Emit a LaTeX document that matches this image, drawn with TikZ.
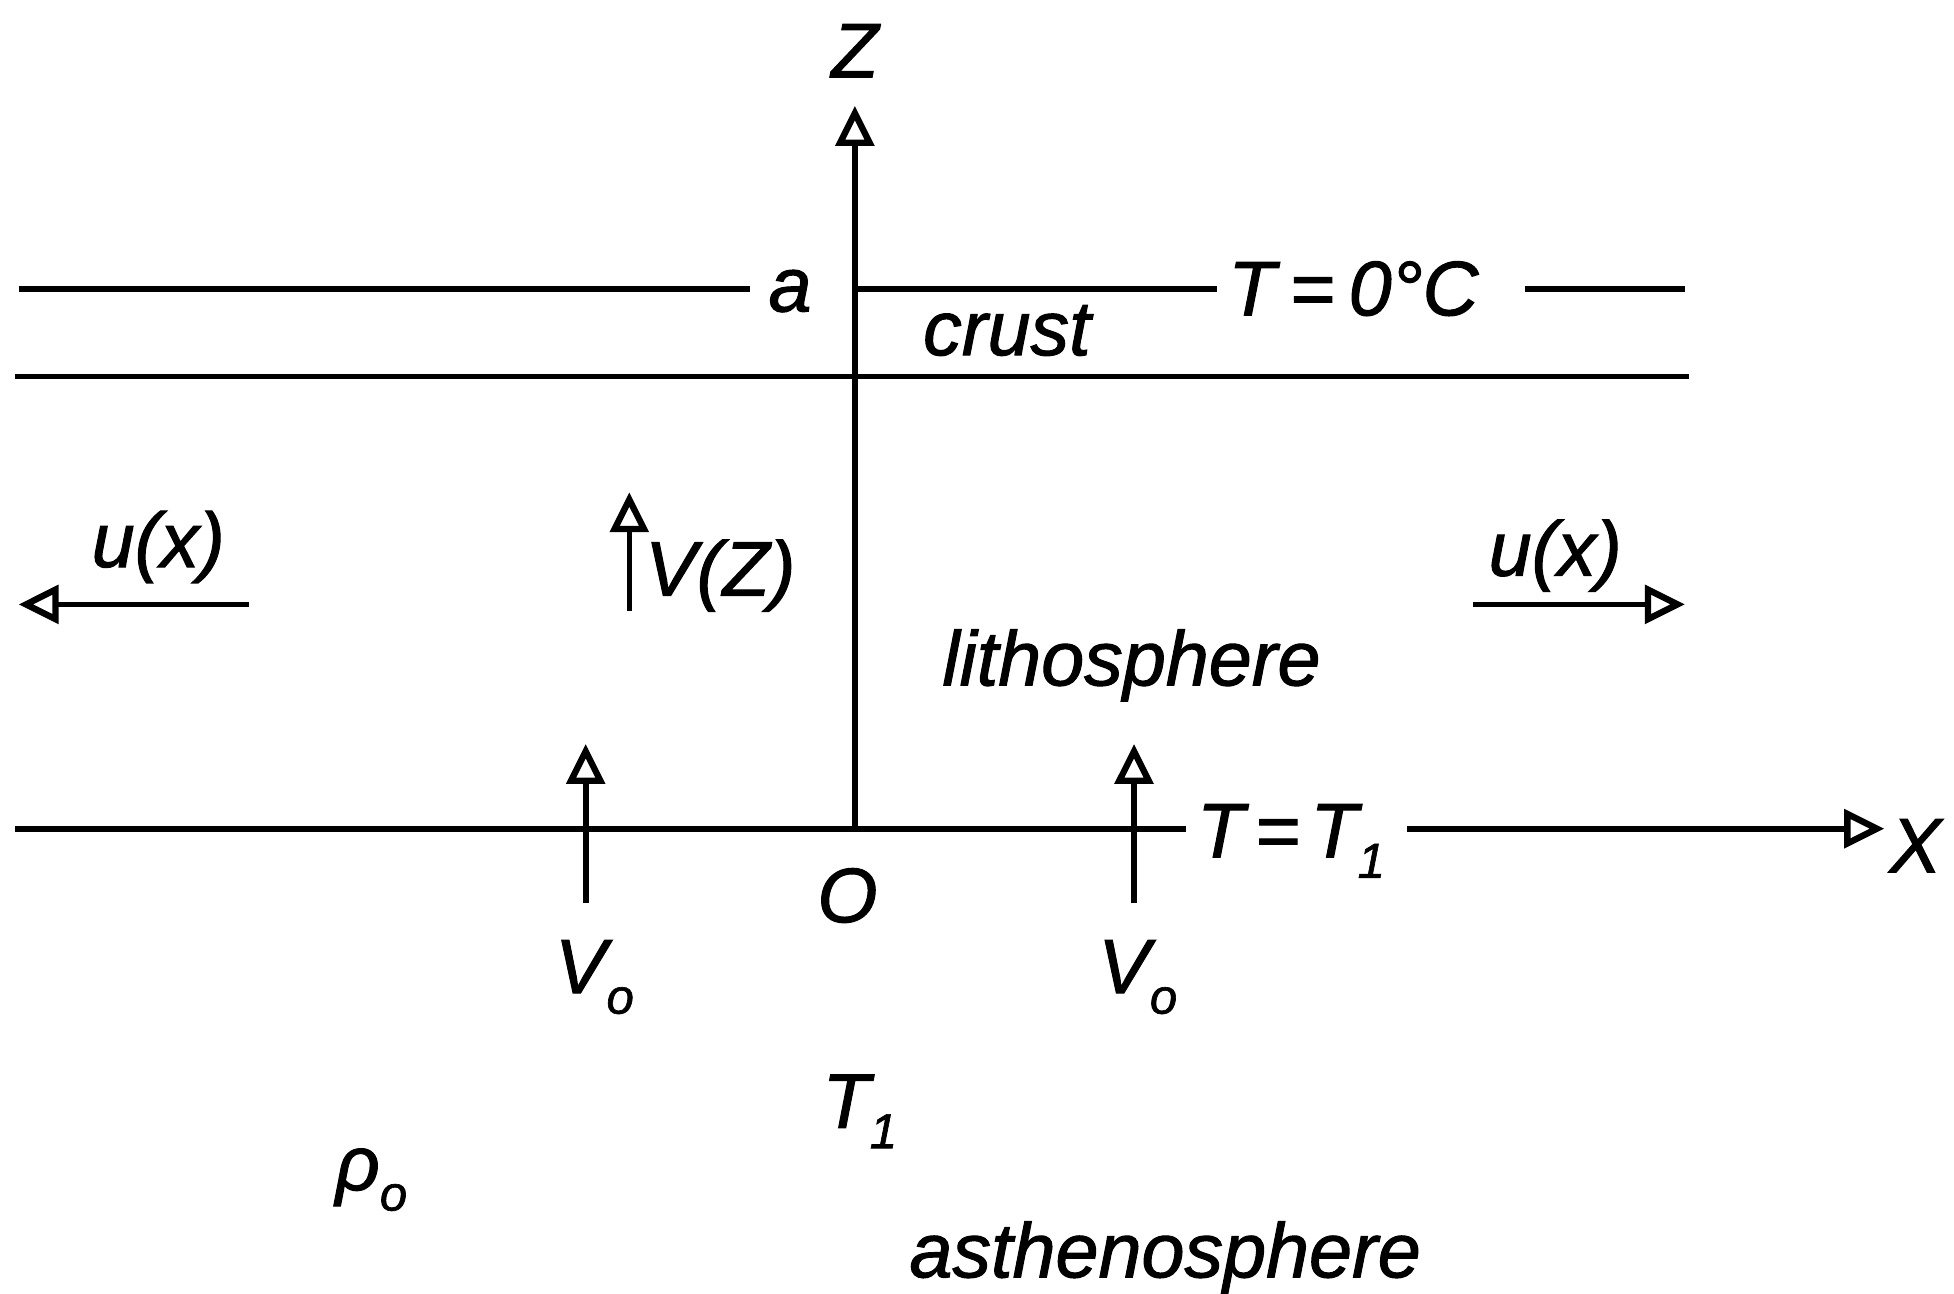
\documentclass[tikz,border=0pt]{standalone}
\usepackage{fontspec}
\setmainfont{Liberation Sans}
\newfontfamily\handfont[ItalicFeatures={FakeBold=1.3}]{Liberation Sans}
\usetikzlibrary{arrows.meta}
\newcommand{\lsub}[1]{\raisebox{-0.5ex}{\fontsize{14}{14}\selectfont #1}}
\begin{document}
\begin{tikzpicture}[x=0.012462cm,y=-0.012462cm,
  ln/.style={line width=1.6pt},
  arr/.style={line width=1.6pt,-{Triangle[open,length=0.4cm,width=0.38cm,line width=1.8pt]}},
  lbl/.style={font=\handfont\fontsize{22}{26}\selectfont\itshape, inner sep=0pt, anchor=base}]
\useasboundingbox (0,0) rectangle (1568,1038);
% coordinates
\coordinate (O) at (686,665);
\coordinate (zTip) at (686,85);
\coordinate (zA) at (686,232);
\coordinate (topL) at (15,232);
\coordinate (topR) at (1352,232);
\coordinate (crL) at (12,302);
\coordinate (crR) at (1355,302);
\coordinate (xL) at (12,665);
\coordinate (xTip) at (1512,665);
\coordinate (uLs) at (200,485);
\coordinate (uLt) at (15,485);
\coordinate (uRs) at (1182,485);
\coordinate (uRt) at (1352,485);
\coordinate (vzS) at (505,490);
\coordinate (vzT) at (505,395);
\coordinate (v1S) at (470,725);
\coordinate (v1T) at (470,597);
\coordinate (v2S) at (910,725);
\coordinate (v2T) at (910,597);
% labels
\node[lbl] (Zl) at (686,62) {Z};
\node[lbl] (al) at (634,250) {a};
\node[lbl] (T0) at (1086,253) {T\kern4pt=\kern4pt0°C};
\node[lbl] (crust) at (808,285) {crust};
\node[lbl] (uL) at (127,455) {u(x)};
\node[lbl] (uR) at (1248,462) {u(x)};
\node[lbl] (VZ) at (578,478) {V(Z)};
\node[lbl] (lith) at (908,550) {lithosphere};
\node[lbl] (TT1) at (1036,688) {T\kern3pt=\kern3pt T\lsub{1}};
\node[lbl] (Xl) at (1537,700) {X};
\node[lbl] (Ol) at (680,740) {O};
\node[lbl] (V1) at (477,797) {V\lsub{o}};
\node[lbl] (V2) at (913,797) {V\lsub{o}};
\node[lbl] (T1) at (690,905) {T\lsub{1}};
\node[lbl] (rho) at (298,955) {ρ\lsub{o}};
\node[lbl] (asth) at (935,1025) {asthenosphere};
% lines
\draw[ln] (topL) -- ([xshift=-5pt]topL -| al.west);
\draw[ln] (zA) -- ([xshift=-3pt]zA -| T0.west);
\draw[ln] ([xshift=13pt]topR -| T0.east) -- (topR);
\draw[ln] (crL) -- (crR);
\draw[ln] (xL) -- ([xshift=-3pt]xL -| TT1.west);
\draw[arr] ([xshift=6pt]xL -| TT1.east) -- (xTip);
\draw[arr] (O) -- (zTip);
\draw[arr] (uLs) -- (uLt);
\draw[arr] (uRs) -- (uRt);
\draw[arr] (vzS) -- (vzT);
\draw[arr] (v1S) -- (v1T);
\draw[arr] (v2S) -- (v2T);
\end{tikzpicture}
\end{document}
